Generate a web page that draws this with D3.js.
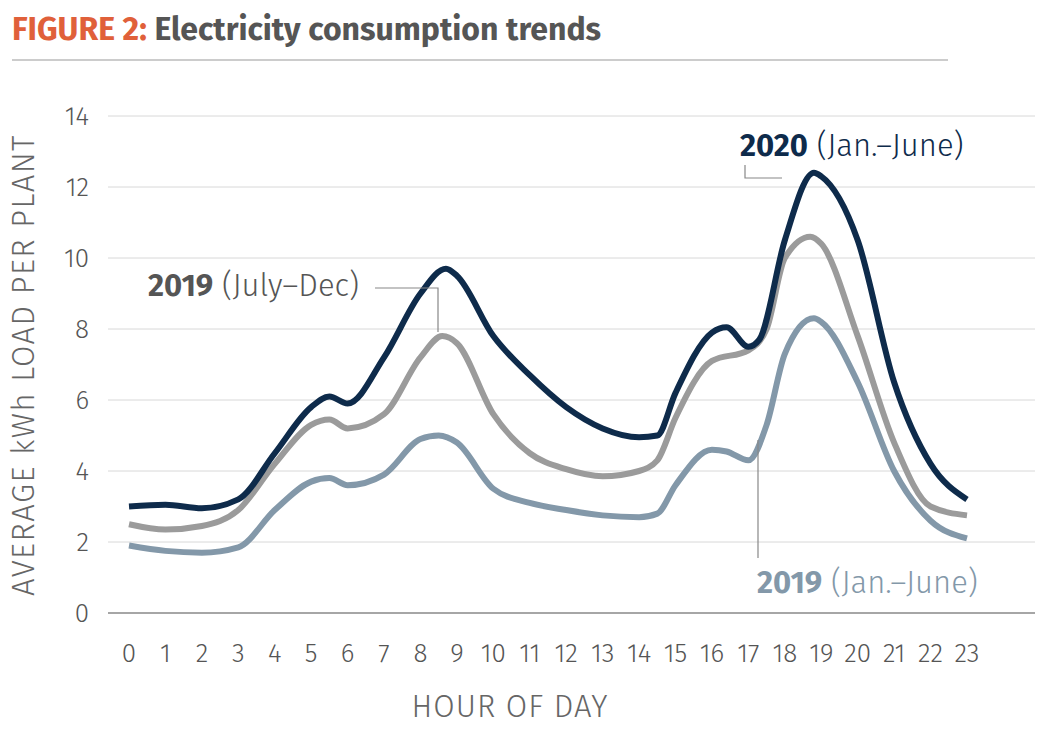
<!DOCTYPE html>
<html><head><meta charset="utf-8">
<script src="https://cdn.jsdelivr.net/npm/d3@7"></script>
<style>body{margin:0;background:#fff;font-family:"Fira Sans","Open Sans",sans-serif}</style>
</head><body>
<svg id="c" width="1063" height="731"></svg>
<script>
const yTicks = [0,2,4,6,8,10,12,14];
const hours = d3.range(0,24);
const hrs2020 = [0,1,2,3,4,5,5.5,6,7,8,8.7,9,10,11,12,13,14,14.5,15,16,16.4,17,17.3,18,18.8,19,20,21,22,23];
const val2020 = [3.0,3.05,2.95,3.2,4.5,5.8,6.1,5.9,7.2,9.0,9.7,9.5,7.8,6.7,5.8,5.2,4.95,5.0,6.2,7.9,8.05,7.5,7.7,10.5,12.4,12.3,10.5,6.5,4.2,3.2];
const hrsJD = [0,1,2,3,4,5,5.5,6,7,8,8.6,9,10,11,12,13,14,14.5,15,16,17,17.5,18,18.7,19,20,21,22,23];
const valJD = [2.5,2.35,2.45,2.9,4.2,5.3,5.45,5.2,5.6,7.2,7.8,7.6,5.6,4.5,4.05,3.85,4.0,4.3,5.5,7.1,7.4,8.0,10.0,10.6,10.4,7.8,4.8,3.0,2.75];
const hrsJJ = [0,1,2,3,4,5,5.5,6,7,8,8.5,9,10,11,12,13,14,14.5,15,16,16.4,17,17.5,18,18.8,19,20,21,22,23];
const valJJ = [1.9,1.75,1.7,1.85,2.9,3.7,3.8,3.6,3.9,4.9,5.0,4.8,3.5,3.1,2.9,2.75,2.7,2.8,3.6,4.6,4.55,4.3,5.3,7.3,8.3,8.2,6.5,4.0,2.6,2.1];

const svg = d3.select("#c");
const x = d3.scaleLinear().domain([0,23]).range([129,967]);
const y = d3.scaleLinear().domain([0,14]).range([613,116]);

// title
const t = svg.append("text").attr("x",12).attr("y",40).attr("font-size",32).attr("font-weight","bold");
t.append("tspan").attr("fill","#e0603a").text("FIGURE 2: ");
t.append("tspan").attr("fill","#555").text("Electricity consumption trends");
svg.append("line").attr("x1",12).attr("x2",948).attr("y1",60).attr("y2",60).attr("stroke","#bbb").attr("stroke-width",1.5);

// grid
svg.append("g").selectAll("line").data(yTicks).join("line")
  .attr("x1",108).attr("x2",1035).attr("y1",d=>y(d)).attr("y2",d=>y(d))
  .attr("stroke",d=>d===0?"#888":"#d8d8d8").attr("stroke-width",d=>d===0?1.5:1);
svg.append("g").selectAll("text").data(yTicks).join("text")
  .attr("x",89).attr("y",d=>y(d)+9).attr("text-anchor","end")
  .attr("font-size",26).attr("fill","#555").attr("font-weight",300).text(d=>d);
svg.append("g").selectAll("text").data(hours).join("text")
  .attr("x",d=>x(d)).attr("y",662).attr("text-anchor","middle")
  .attr("font-size",26).attr("fill","#555").attr("font-weight",300).text(d=>d);

svg.append("text").attr("transform","translate(34,365) rotate(-90)").attr("text-anchor","middle")
  .attr("font-size",31).attr("letter-spacing",1.5).attr("fill","#666").attr("font-weight",300).text("AVERAGE kWh LOAD PER PLANT");
svg.append("text").attr("x",510).attr("y",717).attr("text-anchor","middle")
  .attr("font-size",31).attr("letter-spacing",1).attr("fill","#666").attr("font-weight",300).text("HOUR OF DAY");

const line = d3.line().x(d=>x(d[0])).y(d=>y(d[1])).curve(d3.curveMonotoneX);
const series = [[hrsJJ,valJJ,"#8398a9"],[hrsJD,valJD,"#9b9b9b"],[hrs2020,val2020,"#0e2b4b"]];
series.forEach(([h,v,c])=>{
  svg.append("path").attr("d",line(d3.zip(h,v))).attr("fill","none")
    .attr("stroke",c).attr("stroke-width",6).attr("stroke-linejoin","round");
});

// annotations
function label(xp,yp,bold,rest,col){
  const e = svg.append("text").attr("x",xp).attr("y",yp).attr("font-size",31).attr("fill",col);
  e.append("tspan").attr("font-weight","bold").text(bold);
  e.append("tspan").attr("font-weight",300).text(" "+rest);
}
label(740,156,"2020","(Jan.–June)","#0e2b4b");
label(148,296,"2019","(July–Dec)","#555");
label(757,593,"2019","(Jan.–June)","#8398a9");
const lc = "#888";
svg.append("path").attr("d","M745,165V178H782").attr("fill","none").attr("stroke",lc).attr("stroke-width",1.2);
svg.append("path").attr("d","M375,288H438V332").attr("fill","none").attr("stroke",lc).attr("stroke-width",1.2);
svg.append("path").attr("d","M758,440V558").attr("fill","none").attr("stroke",lc).attr("stroke-width",1.2);
</script>
</body></html>
